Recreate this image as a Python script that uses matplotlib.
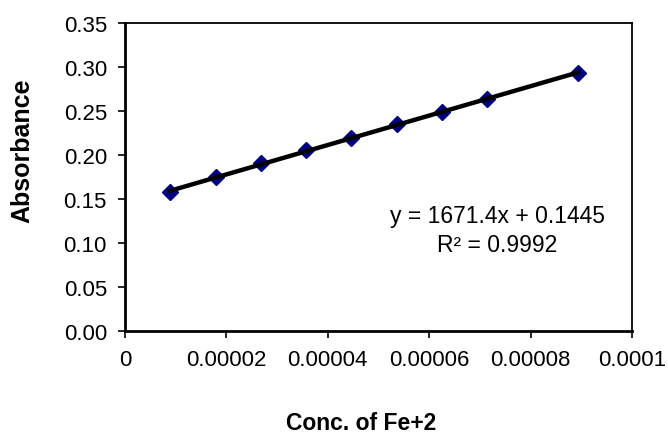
import numpy as np
from matplotlib import pyplot as plt

# Fe+2 calibration data
conc = [0.0000089, 0.0000179, 0.0000268, 0.0000357, 0.0000446,
        0.0000536, 0.0000625, 0.0000714, 0.0000893]
absorbance = [0.158, 0.175, 0.191, 0.206, 0.219, 0.235, 0.249, 0.264, 0.293]
SLOPE = 1671.4
INTERCEPT = 0.1445
R2 = 0.9992
xticks = [0, 0.00002, 0.00004, 0.00006, 0.00008, 0.0001]
xticklabels = ['0', '0.00002', '0.00004', '0.00006', '0.00008', '0.0001']
yticks = [0.0, 0.05, 0.10, 0.15, 0.20, 0.25, 0.30, 0.35]

plt.rcParams['font.family'] = ['Liberation Sans', 'DejaVu Sans']

fig = plt.figure(figsize=(6.68, 4.35), dpi=100)
ax = fig.add_axes([125/668, 1 - 332/435, (632-125)/668, (332-24)/435])

ax.plot(conc, absorbance, 'D', markersize=8, color='#000080', zorder=2)
xfit = np.array([conc[0], conc[-1]])
ax.plot(xfit, SLOPE*xfit + INTERCEPT, '-', color='black', linewidth=3.2, zorder=3)

ax.text(0.0000734, 0.131, 'y = %.1fx + %.4f' % (SLOPE, INTERCEPT),
        ha='center', va='center', fontsize=16.5)
ax.text(0.0000734, 0.098, 'R² = %.4f' % R2, ha='center', va='center', fontsize=16.5)

ax.set_xlim(0, 0.0001)
ax.set_ylim(0, 0.35)
ax.set_xticks(xticks)
ax.set_xticklabels(xticklabels)
ax.set_yticks(yticks)
ax.set_yticklabels(['%.2f' % v for v in yticks])
ax.tick_params(direction='out', length=5, width=1.2, labelsize=16)
ax.tick_params(axis='x', pad=8)
ax.tick_params(axis='y', pad=8)
for side in ('left', 'bottom'):
    ax.spines[side].set_linewidth(2.0)
for side in ('top', 'right'):
    ax.spines[side].set_linewidth(1.3)

fig.text(361/668, 1 - 424/435, 'Conc. of Fe+2', ha='center', va='center',
         fontsize=16.5, fontweight='bold')
fig.text(22/668, 1 - 151/435, 'Absorbance', ha='center', va='center',
         rotation=90, fontsize=18, fontweight='bold')

plt.savefig('out.png', dpi=100)
plt.close()
